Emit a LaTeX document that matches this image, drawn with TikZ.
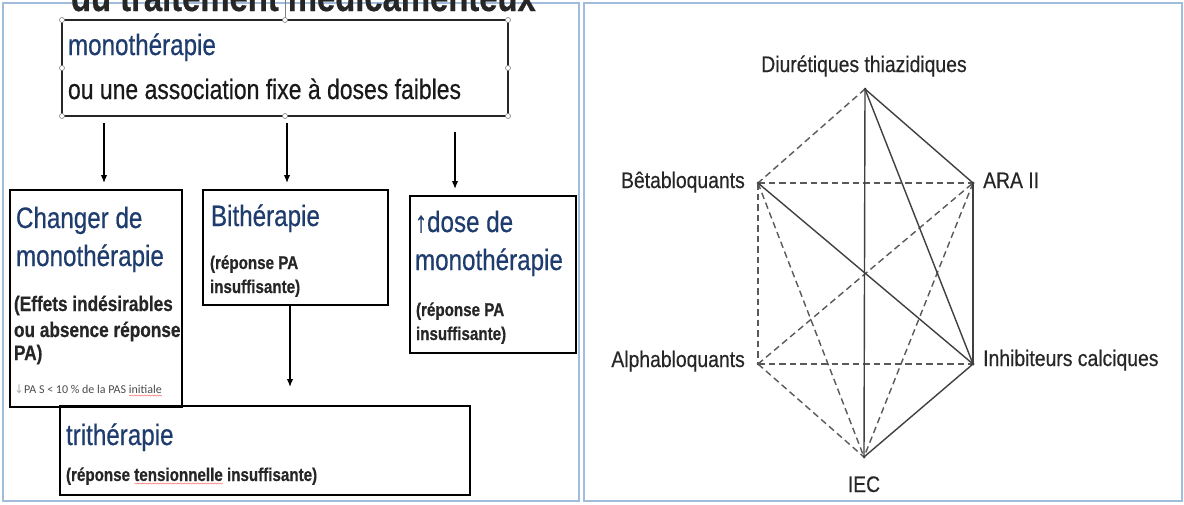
\documentclass[tikz,border=0pt]{standalone}
\usepackage{fontspec}
\setmainfont{Liberation Sans}
\newfontfamily\narrowfont[FakeStretch=0.82,FakeBold=0.5]{Liberation Sans}
\newfontfamily\condfont[FakeStretch=0.86,FakeBold=0.4]{Liberation Sans}
\newfontfamily\calibfont{Carlito}
\newfontfamily\dvfont{DejaVu Sans}
\usetikzlibrary{arrows.meta,decorations.pathmorphing}
\definecolor{hblue}{RGB}{31,60,110}
\definecolor{panelc}{RGB}{160,190,220}
\newcommand\fsz[1]{\fontsize{#1}{#1}\selectfont}
\newlength\sqwidth
\newcommand\squig[1]{\settowidth\sqwidth{#1}\rlap{\tikz[baseline=0pt]\draw[red!55,line width=0.5pt,decorate,decoration={snake,amplitude=0.5pt,segment length=2.5pt}](0pt,-2.5pt)--(\sqwidth,-2.5pt);}#1}
\begin{document}
\begin{tikzpicture}[x=1pt,y=-1pt,
  box/.style={draw=black, line width=2.4pt, rectangle, anchor=north west, inner sep=0pt, outer sep=0pt},
  txt/.style={anchor=base west, inner sep=0pt, outer sep=0pt},
  head/.style={txt, text=hblue, font=\narrowfont\fsz{29.5}},
  sub/.style={txt, text=black!85, font=\narrowfont\bfseries\fsz{18.5}},
  sub1/.style={txt, text=black!85, font=\narrowfont\bfseries\fsz{21}},
  arr/.style={-{Latex[length=8pt,width=6.5pt]}, line width=1.4pt},
  handle/.style={circle, draw=gray, fill=white, line width=0.6pt, inner sep=0pt, minimum size=5pt},
  lab/.style={font=\condfont\fsz{22.5}, text=black!85, inner sep=0pt},
  vtx/.style={circle, fill=black!80, inner sep=0pt, minimum size=3pt},
  sol/.style={line width=1.4pt, draw=black!75},
  das/.style={line width=1.4pt, draw=black!65, dash pattern=on 6.5pt off 4pt}]

\useasboundingbox (0,0) rectangle (1184,504);
\fill[white] (0,0) rectangle (1184,504);
\draw[panelc, line width=1.2pt] (3,3) rectangle (579,501);
\draw[panelc, line width=1.2pt] (584,3) rectangle (1182,501);

% cut title
\begin{scope}
\clip (0,0) rectangle (590,12);
\node[txt, text=black!85, font=\narrowfont\bfseries\fsz{40}] (title) at (71,11) {du traitement médicamenteux};
\end{scope}

% top box
\node[box, draw=black!85, line width=2.2pt, minimum width=446pt, minimum height=96pt] (top) at (62,20) {};
\draw[gray, line width=0.6pt] (top.north) -- ++(0,-20);
\foreach \a [count=\i] in {north west, north, north east, west, east, south west, south, south east}
  \node[handle] (h\i) at (top.\a) {};
\node[head] (t1) at (68,55) {monothérapie};
\node[txt, text=black!90, font=\narrowfont\fsz{28}] (t2) at (68,99) {ou une association fixe à doses faibles};

% box 1
\node[box, minimum width=172pt, minimum height=217pt] (b1) at (10,190) {};
\node[head] (b1a) at (16,228) {Changer de};
\node[head] (b1b) at (16,266) {monothérapie};
\node[sub1] (b1c) at (14,311) {(Effets indésirables};
\node[sub1] (b1d) at (14,337) {ou absence réponse};
\node[sub1] (b1e) at (14,360) {PA)};
\node[txt, font=\calibfont\fsz{12}, text=black!70] (b1f) at (14,393) {{\dvfont\color{gray!60}↓}PA S < 10 \% de la PAS \squig{initiale}};

% box 2
\node[box, minimum width=185pt, minimum height=115pt] (b2) at (203,190) {};
\node[head] (b2a) at (211,226) {Bithérapie};
\node[sub] (b2b) at (210,269) {(réponse PA};
\node[sub] (b2c) at (210,293) {insuffisante)};

% box 3
\node[box, minimum width=166pt, minimum height=157pt] (b3) at (410,196) {};
\node[head] (b3a) at (415,232) {↑dose de};
\node[head] (b3b) at (415,270) {monothérapie};
\node[sub] (b3c) at (416,316) {(réponse PA};
\node[sub] (b3d) at (416,340) {insuffisante)};

% tri box
\node[box, minimum width=410pt, minimum height=89pt] (b4) at (60,406) {};
\node[head] (b4a) at (66,445) {trithérapie};
\node[sub] (b4b) at (66,481) {(réponse \squig{tensionnelle} insuffisante)};

% arrows
\draw[arr, shorten <=7pt, shorten >=7pt] ([xshift=42pt]top.south west) -- ([xshift=94pt]b1.north west);
\draw[arr, shorten <=7pt, shorten >=7pt] ([xshift=225pt]top.south west) -- ([xshift=84pt]b2.north west);
\draw[arr, shorten <=16pt, shorten >=7pt] ([xshift=393pt]top.south west) -- ([xshift=45pt]b3.north west);
\draw[arr, shorten >=19pt] ([xshift=87pt]b2.south west) -- ([xshift=230pt]b4.north west);

% right graph
\node[vtx] (D) at (865,89) {};
\node[vtx] (B) at (758,183) {};
\node[vtx] (A) at (973,183) {};
\node[vtx] (L) at (758,364) {};
\node[vtx] (I) at (973,364) {};
\node[vtx] (E) at (864,457) {};

\node[lab, anchor=base] (lD) at (864,72) {Diurétiques thiazidiques};
\node[lab, anchor=base east] (lB) at (745,188) {Bêtabloquants};
\node[lab, anchor=base west] (lA) at (983,188) {ARA II};
\node[lab, anchor=base east] (lL) at (745,367) {Alphabloquants};
\node[lab, anchor=base west] (lI) at (983,366) {Inhibiteurs calciques};
\node[lab, anchor=base] (lE) at (864,492) {IEC};

\draw[das] (D.center) -- (B.center);
\draw[das] (B.center) -- (A.center);
\draw[das] (B.center) -- (L.center);
\draw[das] (B.center) -- (E.center);
\draw[das] (L.center) -- (A.center);
\draw[das] (L.center) -- (I.center);
\draw[das] (L.center) -- (E.center);
\draw[das] (A.center) -- (E.center);

\draw[sol] (D.center) -- (E.center);
\draw[sol] (D.center) -- (A.center);
\draw[sol] (D.center) -- (I.center);
\draw[sol] (B.center) -- (I.center);
\draw[sol] (A.center) -- (I.center);
\draw[sol] (I.center) -- (E.center);
\end{tikzpicture}
\end{document}
